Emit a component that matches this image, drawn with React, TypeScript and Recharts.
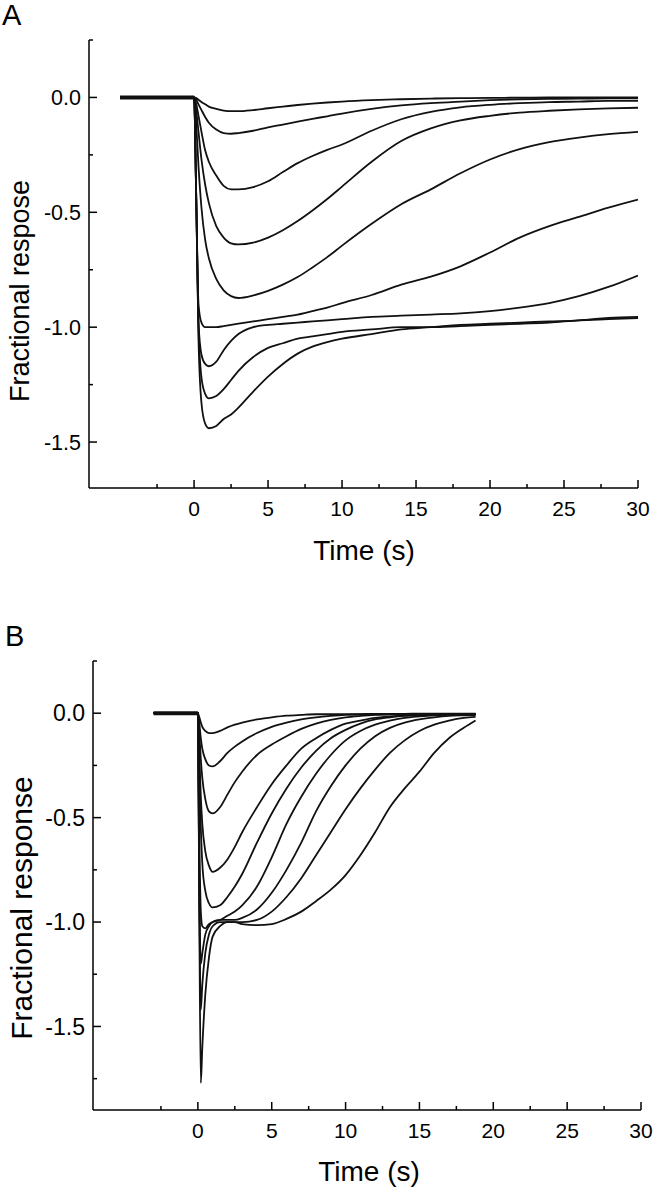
import React from 'react';
import { LineChart, Line, XAxis, YAxis } from 'recharts';

const FONT = '"Liberation Sans", Arial, Helvetica, sans-serif';

// ---- panel A: time (s) and fractional response of each trace ----
const timeA = [-5, 0, 0.15, 0.3, 0.5, 0.75, 1, 1.5, 2, 2.5, 3, 4, 5, 6, 7, 8, 9, 10, 12, 14, 16, 18, 20, 22, 24, 26, 28, 30];
const respA1 = [0, 0, -0.003, -0.01, -0.02, -0.03, -0.04, -0.05, -0.057, -0.06, -0.06, -0.055, -0.047, -0.04, -0.033, -0.027, -0.022, -0.018, -0.012, -0.008, -0.005, -0.003, -0.002, -0.001, 0, 0, 0, 0];
const respA2 = [0, 0, -0.01, -0.03, -0.055, -0.085, -0.11, -0.14, -0.155, -0.158, -0.155, -0.145, -0.13, -0.118, -0.105, -0.093, -0.082, -0.07, -0.05, -0.035, -0.025, -0.018, -0.012, -0.008, -0.006, -0.005, -0.004, -0.004];
const respA3 = [0, 0, -0.03, -0.08, -0.15, -0.23, -0.28, -0.34, -0.385, -0.4, -0.4, -0.39, -0.365, -0.325, -0.286, -0.255, -0.228, -0.205, -0.145, -0.095, -0.063, -0.043, -0.032, -0.025, -0.02, -0.018, -0.015, -0.015];
const respA4 = [0, 0, -0.06, -0.15, -0.27, -0.38, -0.46, -0.56, -0.61, -0.635, -0.64, -0.632, -0.61, -0.578, -0.538, -0.492, -0.442, -0.388, -0.28, -0.19, -0.135, -0.1, -0.08, -0.066, -0.058, -0.052, -0.048, -0.045];
const respA5 = [0, 0, -0.12, -0.3, -0.48, -0.62, -0.7, -0.79, -0.84, -0.865, -0.873, -0.862, -0.842, -0.815, -0.782, -0.74, -0.695, -0.645, -0.55, -0.465, -0.4, -0.33, -0.27, -0.225, -0.195, -0.175, -0.16, -0.15];
const respA6 = [0, 0, -0.45, -0.9, -0.98, -1.0, -1.0, -1.0, -0.995, -0.99, -0.985, -0.975, -0.965, -0.955, -0.945, -0.93, -0.915, -0.895, -0.86, -0.815, -0.78, -0.735, -0.675, -0.61, -0.56, -0.52, -0.48, -0.445];
const respA7 = [0, 0, -0.45, -0.98, -1.12, -1.16, -1.17, -1.15, -1.1, -1.06, -1.03, -1.0, -0.99, -0.985, -0.98, -0.975, -0.97, -0.965, -0.955, -0.95, -0.945, -0.94, -0.93, -0.915, -0.895, -0.865, -0.825, -0.775];
const respA8 = [0, 0, -0.45, -1.0, -1.22, -1.29, -1.31, -1.3, -1.27, -1.23, -1.19, -1.13, -1.09, -1.07, -1.05, -1.04, -1.03, -1.02, -1.01, -1.0, -1.0, -0.995, -0.99, -0.985, -0.98, -0.97, -0.965, -0.96];
const respA9 = [0, 0, -0.45, -1.05, -1.33, -1.42, -1.44, -1.43, -1.4, -1.38, -1.35, -1.28, -1.215, -1.16, -1.115, -1.085, -1.065, -1.05, -1.03, -1.01, -1.0, -0.99, -0.985, -0.98, -0.975, -0.97, -0.96, -0.955];
const preStimA = [-5, 0];

// ---- panel B ----
const timeB = [-3, 0, 0.1, 0.2, 0.3, 0.5, 0.75, 1, 1.5, 2, 2.5, 3, 4, 5, 6, 7, 8, 9, 10, 11, 12, 13, 14, 15, 16, 17, 18, 18.8];
const respB1 = [0, 0, -0.02, -0.045, -0.065, -0.085, -0.095, -0.095, -0.085, -0.068, -0.055, -0.045, -0.03, -0.02, -0.012, -0.008, -0.005, -0.005, -0.004, -0.004, -0.003, -0.003, -0.003, -0.002, -0.002, -0.002, -0.002, -0.002];
const respB2 = [0, 0, -0.05, -0.12, -0.17, -0.22, -0.25, -0.255, -0.23, -0.19, -0.16, -0.135, -0.095, -0.065, -0.045, -0.03, -0.02, -0.013, -0.008, -0.006, -0.005, -0.004, -0.004, -0.003, -0.003, -0.003, -0.003, -0.003];
const respB3 = [0, 0, -0.1, -0.22, -0.31, -0.41, -0.47, -0.48, -0.45, -0.39, -0.33, -0.28, -0.2, -0.15, -0.11, -0.075, -0.05, -0.032, -0.02, -0.013, -0.008, -0.006, -0.005, -0.004, -0.004, -0.004, -0.004, -0.004];
const respB4 = [0, 0, -0.2, -0.4, -0.53, -0.66, -0.73, -0.76, -0.74, -0.7, -0.64, -0.57, -0.45, -0.34, -0.25, -0.17, -0.12, -0.08, -0.05, -0.035, -0.022, -0.015, -0.01, -0.008, -0.006, -0.005, -0.005, -0.005];
const respB5 = [0, 0, -0.3, -0.55, -0.72, -0.85, -0.91, -0.93, -0.92, -0.88, -0.83, -0.77, -0.62, -0.48, -0.36, -0.26, -0.18, -0.12, -0.08, -0.05, -0.03, -0.02, -0.013, -0.01, -0.008, -0.006, -0.006, -0.006];
const respB6 = [0, 0, -0.6, -0.95, -1.02, -1.03, -1.01, -1.0, -0.99, -0.97, -0.95, -0.92, -0.83, -0.69, -0.53, -0.4, -0.29, -0.2, -0.13, -0.085, -0.055, -0.035, -0.022, -0.015, -0.01, -0.008, -0.008, -0.008];
const respB7 = [0, 0, -0.85, -1.2, -1.15, -1.06, -1.02, -1.0, -0.99, -0.99, -0.99, -0.98, -0.94, -0.86, -0.75, -0.62, -0.47, -0.35, -0.25, -0.17, -0.11, -0.07, -0.045, -0.03, -0.02, -0.013, -0.01, -0.008];
const respB8 = [0, 0, -0.9, -1.42, -1.3, -1.15, -1.06, -1.02, -1.0, -1.0, -1.0, -1.0, -0.99, -0.95, -0.88, -0.79, -0.68, -0.57, -0.46, -0.36, -0.27, -0.19, -0.13, -0.085, -0.055, -0.035, -0.022, -0.018];
const respB9 = [0, 0, -1.0, -1.77, -1.6, -1.35, -1.17, -1.07, -1.02, -1.0, -1.0, -1.01, -1.015, -1.01, -0.985, -0.95, -0.9, -0.845, -0.775, -0.68, -0.57, -0.45, -0.36, -0.28, -0.19, -0.12, -0.07, -0.035];
const preStimB = [-3, 0];

// axis ticks
const xTicks = [-2.5, 0, 2.5, 5, 7.5, 10, 12.5, 15, 17.5, 20, 22.5, 25, 27.5, 30];
const yTicksA = [0.25, 0, -0.25, -0.5, -0.75, -1, -1.25, -1.5];
const yTicksB = [0.25, 0, -0.25, -0.5, -0.75, -1, -1.25, -1.5, -1.75];

const toSeries = (ts: number[], vs: number[]) => ts.map((t, i) => ({ t, v: vs[i] }));

const seriesA = [respA1, respA2, respA3, respA4, respA5, respA6, respA7, respA8, respA9].map((r) => toSeries(timeA, r));
const seriesB = [respB1, respB2, respB3, respB4, respB5, respB6, respB7, respB8, respB9].map((r) => toSeries(timeB, r));
const baseA = preStimA.map((t) => ({ t, v: 0 }));
const baseB = preStimB.map((t) => ({ t, v: 0 }));

// x ticks point up into the plot, labels only on multiples of 5
function XTick(props: any) {
  const { x, y, payload } = props;
  const v = payload.value;
  const major = Math.abs(v % 5) < 1e-9;
  return (
    <g>
      <line x1={x} x2={x} y1={y} y2={y - (major ? 8 : 4)} stroke="#000" strokeWidth={1.5} />
      {major && (
        <text x={x} y={y + 28} textAnchor="middle" fontSize={21} fontFamily={FONT} fill="#000">
          {v}
        </text>
      )}
    </g>
  );
}

const makeYTick = (fontSize: number) => (props: any) => {
  const { x, y, payload } = props;
  const v = payload.value;
  const major = Math.abs(v * 2 - Math.round(v * 2)) < 1e-9;
  return (
    <g>
      <line x1={x} x2={x + (major ? 8 : 4)} y1={y} y2={y} stroke="#000" strokeWidth={1.5} />
      {major && (
        <text x={x - 8} y={y} dy="0.36em" textAnchor="end" fontSize={fontSize} fontFamily={FONT} fill="#000">
          {v.toFixed(1)}
        </text>
      )}
    </g>
  );
};

function Panel({ series, base, yTicks, yDomain, yWidth, height, margin, xHeight, yFont }: any) {
  return (
    <LineChart width={660} height={height} margin={margin}>
      <XAxis
        type="number"
        dataKey="t"
        domain={[-7.1, 30]}
        allowDataOverflow
        ticks={xTicks}
        interval={0}
        tickSize={0}
        tickMargin={0}
        tickLine={false}
        tick={<XTick />}
        height={xHeight}
        axisLine={{ stroke: '#000', strokeWidth: 1.5 }}
      />
      <YAxis
        type="number"
        domain={yDomain}
        allowDataOverflow
        ticks={yTicks}
        interval={0}
        tickSize={0}
        tickMargin={0}
        tickLine={false}
        tick={makeYTick(yFont)}
        width={yWidth}
        axisLine={{ stroke: '#000', strokeWidth: 1.5 }}
      />
      <Line data={base} dataKey="v" type="linear" dot={false} stroke="#111" strokeWidth={4} isAnimationActive={false} />
      {series.map((s: any, i: number) => (
        <Line key={i} data={s} dataKey="v" type="monotone" dot={false} stroke="#111" strokeWidth={1.8} isAnimationActive={false} />
      ))}
    </LineChart>
  );
}

export default function App() {
  return (
    <div style={{ position: 'absolute', left: 0, top: 0, width: 660, height: 1199, background: '#fff', fontFamily: FONT }}>
      <div style={{ position: 'absolute', left: 0, top: 0 }}>
        <Panel
          series={seriesA}
          base={baseA}
          yTicks={yTicksA}
          yDomain={[-1.7, 0.25]}
          yWidth={89}
          height={570}
          margin={{ top: 40, right: 22, bottom: 0, left: 0 }}
          xHeight={82}
          yFont={21.5}
        />
      </div>
      <div style={{ position: 'absolute', left: 0, top: 620 }}>
        <Panel
          series={seriesB}
          base={baseB}
          yTicks={yTicksB}
          yDomain={[-1.9, 0.25]}
          yWidth={93}
          height={579}
          margin={{ top: 41, right: 19, bottom: 0, left: 0 }}
          xHeight={89}
          yFont={23}
        />
      </div>
      <svg width={660} height={1199} style={{ position: 'absolute', left: 0, top: 0, pointerEvents: 'none' }}>
        <g fontFamily={FONT} fill="#000">
          <text x={2} y={25} fontSize={29}>A</text>
          <text x={5} y={646} fontSize={29}>B</text>
          <text transform="translate(29,291) rotate(-90)" textAnchor="middle" fontSize={27}>Fractional respose</text>
          <text transform="translate(32,908) rotate(-90)" textAnchor="middle" fontSize={30}>Fractional response</text>
          <text x={364} y={560} textAnchor="middle" fontSize={28}>Time (s)</text>
          <text x={369} y={1181} textAnchor="middle" fontSize={28}>Time (s)</text>
        </g>
      </svg>
    </div>
  );
}
